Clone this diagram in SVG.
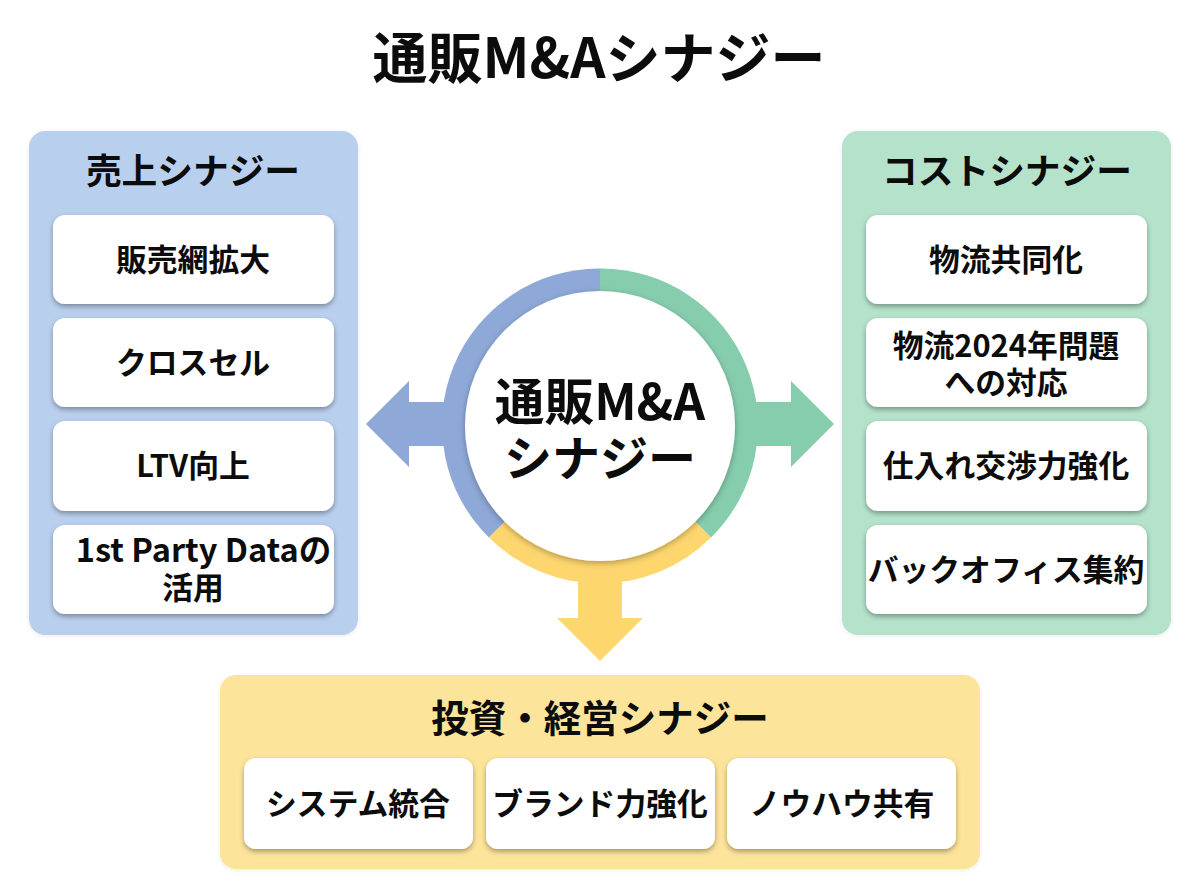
<svg xmlns="http://www.w3.org/2000/svg" width="1200" height="896" viewBox="0 0 1200 896">
<defs>
<filter id="cardShadow" x="-10%" y="-15%" width="120%" height="135%"><feDropShadow dx="0" dy="2.500" stdDeviation="2.500" flood-color="#000" flood-opacity="0.34"/></filter>
<filter id="panelShadow" x="-5%" y="-5%" width="110%" height="110%"><feDropShadow dx="0" dy="1" stdDeviation="2" flood-color="#000" flood-opacity="0.08"/></filter>
<filter id="hubShadow" x="-10%" y="-10%" width="120%" height="120%"><feDropShadow dx="0" dy="2" stdDeviation="3" flood-color="#000" flood-opacity="0.3"/></filter>
</defs>
<style>
text{font-family:"Noto Sans CJK JP","Noto Sans",sans-serif;font-weight:700;fill:#0c0c0c;text-anchor:middle}
.card{fill:#fff;filter:url(#cardShadow)}
.panel{filter:url(#panelShadow)}
.head{font-size:35.700px}
.item{font-size:30.800px}
.blue{fill:#8ea9d8}.green{fill:#86cdae}.yellow{fill:#fdd66e}
</style>
<rect width="1200" height="896" fill="#fff"/>
<text id="title" x="599" y="78" style="font-size:55px">通販M&amp;Aシナジー</text>
<g id="revenue">
<rect class="panel" x="29" y="131" width="329" height="504" rx="16" fill="#b9cfee"/>
<text class="head" x="193" y="184">売上シナジー</text>
<g id="rev1"><rect class="card" x="53" y="215" width="281" height="89" rx="12"/><text class="item" x="193" y="271">販売網拡大</text></g>
<g id="rev2"><rect class="card" x="53" y="318" width="281" height="89" rx="12"/><text class="item" x="193" y="374">クロスセル</text></g>
<g id="rev3"><rect class="card" x="53" y="421" width="281" height="90" rx="12"/><text class="item" x="193" y="477">LTV向上</text></g>
<g id="rev4"><rect class="card" x="53" y="525" width="281" height="89" rx="12"/><text class="item" x="203.500" y="562" style="font-size:32.500px">1st Party Dataの</text><text class="item" x="193" y="599">活用</text></g>
</g>
<g id="cost">
<rect class="panel" x="842" y="131" width="329" height="504" rx="16" fill="#b4e2cb"/>
<text class="head" x="1007" y="184">コストシナジー</text>
<g id="cost1"><rect class="card" x="866" y="215" width="281" height="89" rx="12"/><text class="item" x="1006" y="271">物流共同化</text></g>
<g id="cost2"><rect class="card" x="866" y="318" width="281" height="89" rx="12"/><text class="item" x="1006" y="357">物流2024年問題</text><text class="item" x="1006" y="394">への対応</text></g>
<g id="cost3"><rect class="card" x="866" y="421" width="281" height="90" rx="12"/><text class="item" x="1006" y="477">仕入れ交渉力強化</text></g>
<g id="cost4"><rect class="card" x="866" y="525" width="281" height="89" rx="12"/><text class="item" x="1006" y="581">バックオフィス集約</text></g>
</g>
<g id="invest">
<rect class="panel" x="220" y="675" width="760" height="194" rx="16" fill="#fde49b"/>
<text class="head" x="600" y="732" style="font-size:37.500px">投資・経営シナジー</text>
<g id="inv1"><rect class="card" x="244" y="758" width="229" height="91" rx="12"/><text class="item" x="358" y="815">システム統合</text></g>
<g id="inv2"><rect class="card" x="486" y="758" width="229" height="91" rx="12"/><text class="item" x="600" y="815">ブランド力強化</text></g>
<g id="inv3"><rect class="card" x="727" y="758" width="229" height="91" rx="12"/><text class="item" x="842" y="815">ノウハウ共有</text></g>
</g>
<g id="connectors">
<path class="blue" d="M366 424L409 381V402H470V446H409V467Z"/>
<path class="green" d="M834 424L791 381V402H730V446H791V467Z"/>
<path class="yellow" d="M600 661L557 618H578V560H622V618H643Z"/>
</g>
<g id="hub">
<path class="blue" d="M600 268.500A157 157 0 0 0 489 537.500L600 426Z"/>
<path class="green" d="M600 268.500A157 157 0 0 1 711 537.500L600 426Z"/>
<path class="yellow" d="M489 537.500A157 157 0 0 0 711 537.500L600 426Z"/>
<circle cx="600" cy="426" r="135" fill="#fff" filter="url(#hubShadow)"/>
<text x="600" y="420" style="font-size:49.700px">通販M&amp;A</text>
<text x="600" y="476" style="font-size:48px">シナジー</text>
</g>
</svg>
